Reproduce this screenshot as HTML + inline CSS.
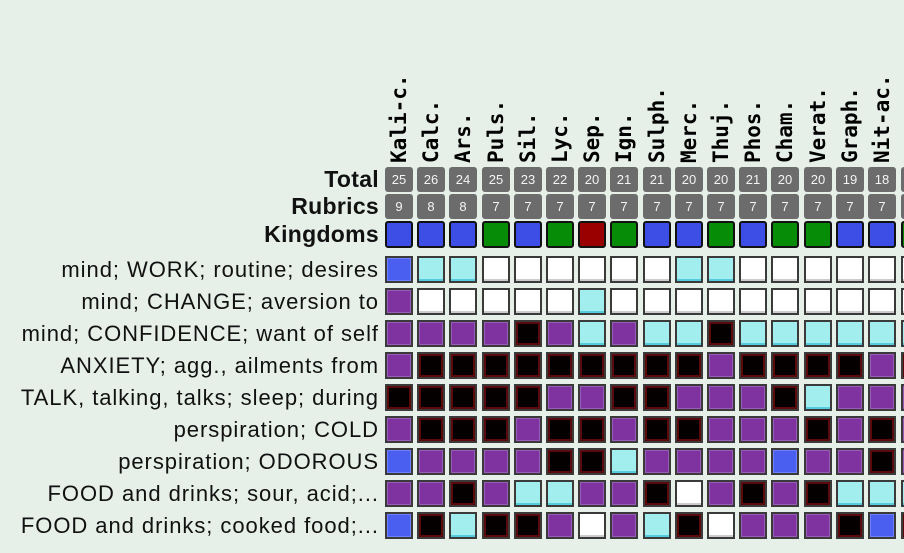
<!DOCTYPE html>
<html><head><meta charset="utf-8"><style>
body{margin:0;width:904px;height:553px;overflow:hidden;background:#e6efe8;position:relative;font-family:"Liberation Sans",Arial,sans-serif}
.l{position:absolute;right:525px;font-size:22px;letter-spacing:0.95px;color:#111;white-space:nowrap;line-height:26px}
.b{font-weight:bold;font-size:23px;letter-spacing:0.3px}
.h{position:absolute;top:163px;transform-origin:0 0;transform:rotate(-90deg);font-family:"DejaVu Sans Mono",monospace;font-weight:bold;font-size:21px;line-height:20px;white-space:nowrap;color:#000}
.g{position:absolute;width:28px;height:25px;background:#6c6c6c;border-radius:3px;color:#f4f4f4;font-size:13px;text-align:center;line-height:25px}
.c{position:absolute;width:24px;height:23px;border:2px solid #3a3a3a;box-sizing:content-box}
.W{background:#fff;box-shadow:inset 0 -2px 0 #ccc}
.C{background:#a2eeee;box-shadow:inset 0 -2px 0 #5cd}
.P{background:#7e33a0;box-shadow:inset 0 0 0 1px #9a5bb8}
.K{background:#050000;box-shadow:inset 0 0 0 2px #5a0a0a}
.B{background:#4a5ff0;box-shadow:inset 0 0 0 1px #6f80ff}
.k{border-radius:3px}
</style></head><body>
<div class="l b" style="top:166px">Total</div>
<div class="l b" style="top:193px">Rubrics</div>
<div class="l b" style="top:221px">Kingdoms</div>
<div class="l" style="top:257px">mind; WORK; routine; desires</div>
<div class="l" style="top:289px">mind; CHANGE; aversion to</div>
<div class="l" style="top:321px">mind; CONFIDENCE; want of self</div>
<div class="l" style="top:353px">ANXIETY; agg., ailments from</div>
<div class="l" style="top:385px">TALK, talking, talks; sleep; during</div>
<div class="l" style="top:417px">perspiration; COLD</div>
<div class="l" style="top:449px">perspiration; ODOROUS</div>
<div class="l" style="top:481px">FOOD and drinks; sour, acid;...</div>
<div class="l" style="top:513px">FOOD and drinks; cooked food;...</div>
<div id="g"></div>
<script>
var names=["Kali-c.","Calc.","Ars.","Puls.","Sil.","Lyc.","Sep.","Ign.","Sulph.","Merc.","Thuj.","Phos.","Cham.","Verat.","Graph.","Nit-ac.",""];
var tot=[25,26,24,25,23,22,20,21,21,20,20,21,20,20,19,18,""];
var rub=[9,8,8,7,7,7,7,7,7,7,7,7,7,7,7,7,""];
var kc={b:"#3d4ee6",g:"#078c07",r:"#9a0000"};
var king="bbbgbgrgbbgbggbbg";
var rows=["BCCWWWWWWCCWWWWWW","PWWWWWCWWWWWWWWWW","PPPPKPCPCCKCCCCCC","PKKKKKKKKKPKKKKPK","KKKKKPPKKPPPKCPPP","PKKKPKKPKKPPPKPKP","BPPPPKKCPPPPBPPKP","PPKPCCPPKWPKPKCCC","BKCKKPWPCKWPPPKBK"];
var h="";
for(var i=0;i<17;i++){
 var x=Math.round(385+i*32.2);
 if(i==16)x=901;
 if(names[i])h+='<div class="h" style="left:'+(x+4)+'px">'+names[i]+'</div>';
 h+='<div class="g" style="left:'+x+'px;top:167px">'+tot[i]+'</div>';
 h+='<div class="g" style="left:'+x+'px;top:194px">'+rub[i]+'</div>';
 h+='<div class="c k" style="left:'+x+'px;top:221px;background:'+kc[king[i]]+';border-color:#111">'+'</div>';
 for(var r=0;r<9;r++){
  h+='<div class="c '+rows[r][i]+'" style="left:'+x+'px;top:'+(256+r*32)+'px"></div>';
 }
}
document.getElementById("g").innerHTML=h;
</script>
</body></html>
